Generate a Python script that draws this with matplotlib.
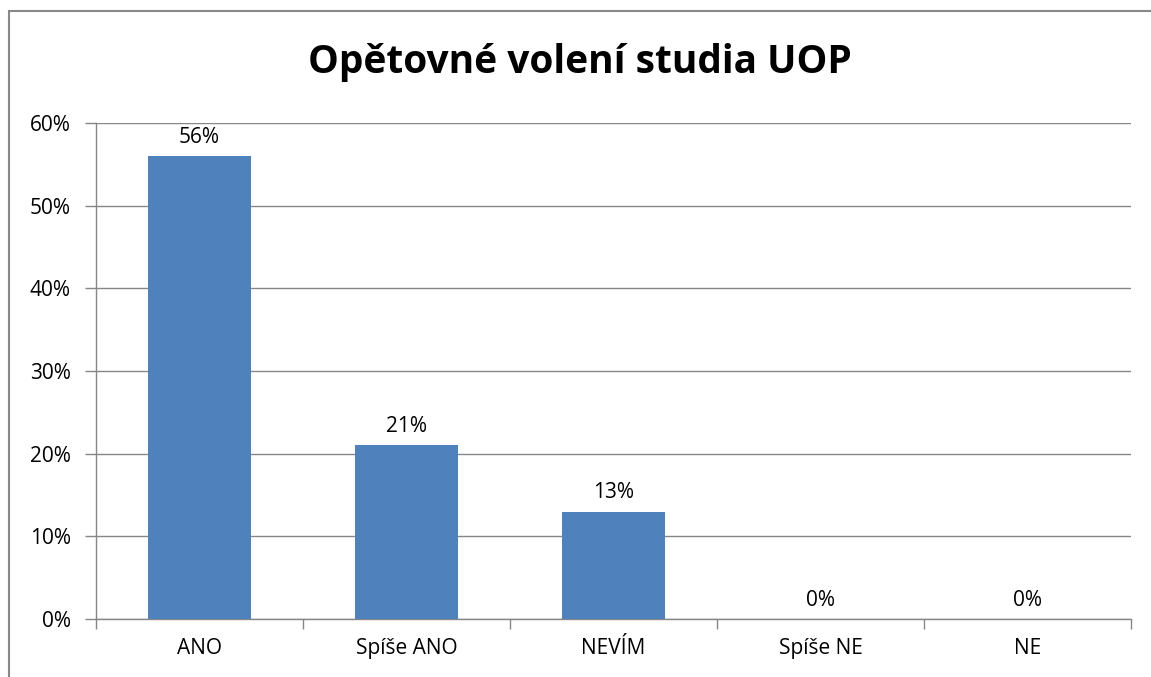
import matplotlib
matplotlib.use("Agg")
import matplotlib.pyplot as plt
from matplotlib.patches import Rectangle
from matplotlib.ticker import MultipleLocator, FuncFormatter

categories = ["ANO", "Spíše ANO", "NEVÍM", "Spíše NE", "NE"]
values = [56, 21, 13, 0, 0]
title = "Opětovné volení studia UOP"

plt.rcParams['font.family'] = ['Open Sans', 'DejaVu Sans']

W, H = 1151, 677
fig = plt.figure(figsize=(W / 100, H / 100), dpi=100)
fig.patch.set_facecolor("white")

# outer chart frame
fig.patches.append(Rectangle((9 / W, -0.05), 1.2, 1 - 11 / H + 0.05,
                             transform=fig.transFigure, fill=False,
                             edgecolor="#888888", linewidth=1.5))

ax = fig.add_axes([96 / W, 1 - 619 / H, (1131 - 96) / W, (619 - 123) / H])
x = list(range(len(categories)))
ax.bar(x, values, width=0.5, color="#4F81BD", zorder=3)
ax.set_xlim(-0.5, len(categories) - 0.5)
ax.set_ylim(0, 60)
ax.yaxis.set_major_locator(MultipleLocator(10))
ax.yaxis.set_major_formatter(FuncFormatter(lambda v, p: f"{v:.0f}%"))
ax.grid(axis="y", color="#868686", linewidth=1, zorder=0)

for s in ["top", "right"]:
    ax.spines[s].set_visible(False)
for s in ["left", "bottom"]:
    ax.spines[s].set_color("#868686")
    ax.spines[s].set_linewidth(1)

fs = 15
ax.set_xticks([i + 0.5 for i in range(-1, len(categories))])
ax.set_xticklabels([])
ax.set_xticks(x, minor=True)
ax.set_xticklabels(categories, minor=True, fontsize=fs)
ax.tick_params(axis="x", which="major", length=7, color="#868686", width=1)
ax.tick_params(axis="x", which="minor", length=0, pad=14)
ax.tick_params(axis="y", length=8, color="#868686", width=1, labelsize=fs, pad=10)

for i, v in enumerate(values):
    ax.annotate(f"{v}%", (i, v), xytext=(0, 6), textcoords="offset points",
                ha="center", va="bottom", fontsize=fs)

fig.text(580 / W, 1 - 62 / H, title, ha="center", va="center",
         fontsize=28, fontweight="bold")

fig.savefig("out.png", dpi=100)
